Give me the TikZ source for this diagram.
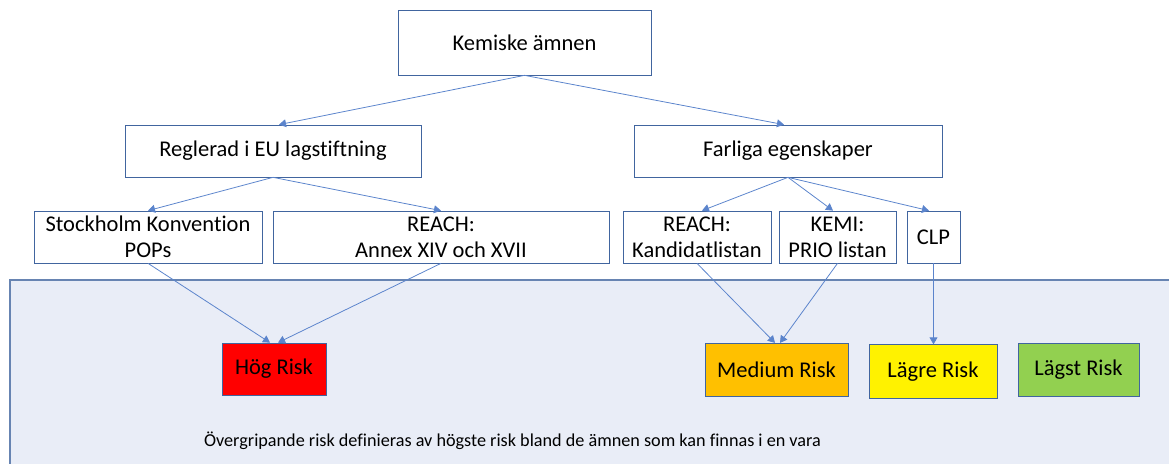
\documentclass[tikz,border=0pt]{standalone}
\usepackage{fontspec}
\setmainfont{Carlito}[Ligatures=NoCommon]
\usetikzlibrary{arrows.meta,calc,positioning}
\definecolor{boxline}{HTML}{41659F}
\definecolor{linkblue}{HTML}{5B84CC}
\definecolor{panelfill}{HTML}{E9EDF7}
\definecolor{riskorange}{HTML}{FFC000}
\definecolor{riskgreen}{HTML}{92D050}

\begin{document}
\begin{tikzpicture}[
		box/.style={draw=boxline, fill=white, inner sep=0pt, align=center,
			minimum height=1.04cm, font=\fontsize{12.8}{14.7}\selectfont},
		risk/.style={box, minimum height=1.07cm},
		link/.style={draw=linkblue, line width=0.45pt, -{Triangle[length=4pt,width=4.5pt]}},
		]
	\useasboundingbox (0,0) rectangle (23.38,-9.28);

	% --- bakgrund ---
	\fill[panelfill] (0.2,-5.6) rectangle (23.38,-9.28);
	\draw[boxline!80, line width=0.6pt] (0.2,-9.28) -- (0.2,-5.6) -- (23.38,-5.6);

	% --- rubriker ---
	\node[box, minimum width=5.06cm, minimum height=1.3cm] (kem) at (10.49,-0.85) {Kemiske ämnen};
	\node[box, minimum width=5.92cm] (eu) at (5.46,-3.02) {Reglerad i EU lagstiftning};
	\node[box, minimum width=6.16cm] (farl) at (15.76,-3.02) {Farliga egenskaper};

	% --- listor ---
	\node[box, minimum width=4.56cm] (pops) at (2.96,-4.74) {Stockholm Konvention\\POPs};
	\node[box, minimum width=6.72cm] (reach) at (8.82,-4.74) {REACH:\\Annex XIV och XVII};
	\node[box, minimum width=2.96cm] (kand) at (13.94,-4.74) {REACH:\\Kandidatlistan};
	\node[box, minimum width=2.34cm] (prio) at (16.75,-4.74) {KEMI:\\PRIO listan};
	\node[box, minimum width=1.06cm] (clp) at (18.67,-4.74) {CLP};

	% --- risknivåer ---
	\node[risk, fill=red, minimum width=2.08cm, minimum height=1.04cm] (hog) at (5.48,-7.38) {Hög Risk};
	\node[risk, fill=riskorange, minimum width=2.86cm] (med) at (15.53,-7.4) {Medium Risk};
	\node[risk, fill=yellow, minimum width=2.56cm] (lagre) at (18.66,-7.43) {Lägre Risk};
	\node[risk, fill=riskgreen, minimum width=2.42cm] (lagst) at (21.57,-7.4) {Lägst Risk};

	\node[font=\fontsize{10.35}{12}\selectfont] (note) at (10.25,-8.82)
		{Övergripande risk definieras av högste risk bland de ämnen som kan finnas i en vara};

	% --- pilar ---
	\draw[link] (kem.south) -- ($(eu.north)+(0.12,0)$);
	\draw[link] (kem.south) -- ($(farl.north)+(-0.08,0)$);
	\draw[link] (eu.south) -- (pops.north);
	\draw[link] (eu.south) -- (reach.north);
	\draw[link] (farl.south) -- ($(kand.north)+(0.1,0)$);
	\draw[link] (farl.south) -- ($(prio.north)+(-0.09,0)$);
	\draw[link] (farl.south) -- ($(clp.north)+(-0.09,0)$);
	\draw[link] (pops.south) -- ($(hog.north)+(-0.08,0)$);
	\draw[link] (reach.south) -- ($(hog.north)+(0.08,0)$);
	\draw[link] (kand.south) -- ($(med.north)+(-0.03,0)$);
	\draw[link] (prio.south) -- ($(med.north)+(0.07,0)$);
	\draw[link] (clp.south) -- (lagre.north -| clp.south);
\end{tikzpicture}
\end{document}
